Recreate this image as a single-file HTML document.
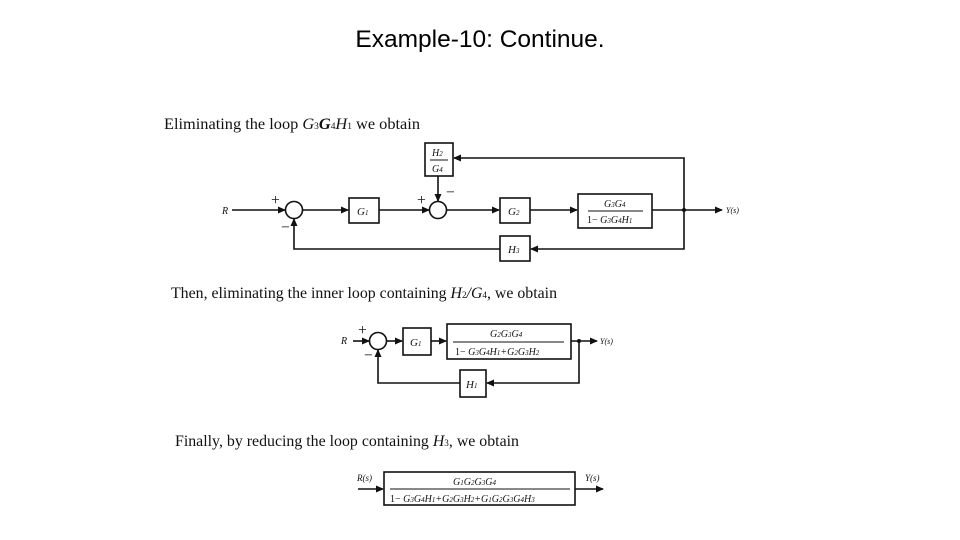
<!DOCTYPE html>
<html><head><meta charset="utf-8"><style>
html,body{margin:0;padding:0;background:#fff;}
svg{display:block;}
.t{font-family:"Liberation Serif",serif;font-size:15.6px;fill:#111;}
.i{font-family:"Liberation Serif",serif;font-style:italic;fill:#111;}
</style></head><body>
<svg width="960" height="540" viewBox="0 0 960 540" xmlns="http://www.w3.org/2000/svg">
<defs><marker id="a" markerWidth="8" markerHeight="8" refX="7" refY="4" orient="auto" markerUnits="userSpaceOnUse"><path d="M0,0.5 L8,4 L0,7.5z" fill="#111"/></marker></defs>
<text x="480" y="47" text-anchor="middle" font-family="Liberation Sans,sans-serif" font-size="24.5" fill="#000">Example-10: Continue.</text>
<g stroke="#111" stroke-width="1.6" fill="none">
<line x1="232" y1="210" x2="285" y2="210" marker-end="url(#a)"/>
<circle cx="294" cy="210" r="8.5"/>
<line x1="303" y1="210" x2="348" y2="210" marker-end="url(#a)"/>
<rect x="349" y="198" width="30" height="25"/>
<line x1="379" y1="210" x2="429" y2="210" marker-end="url(#a)"/>
<circle cx="438" cy="210" r="8.5"/>
<rect x="425" y="143" width="28" height="33"/>
<line x1="438" y1="176" x2="438" y2="201" marker-end="url(#a)"/>
<line x1="447" y1="210" x2="499" y2="210" marker-end="url(#a)"/>
<rect x="500" y="198" width="30" height="25"/>
<line x1="530" y1="210" x2="577" y2="210" marker-end="url(#a)"/>
<rect x="578" y="194" width="74" height="34"/>
<line x1="652" y1="210" x2="722" y2="210" marker-end="url(#a)"/>
<polyline points="684,210 684,158 454,158" marker-end="url(#a)"/>
<polyline points="684,210 684,249 531,249" marker-end="url(#a)"/>
<rect x="500" y="236" width="30" height="25"/>
<polyline points="500,249 294,249 294,219" marker-end="url(#a)"/>
<line x1="353" y1="341" x2="369" y2="341" marker-end="url(#a)"/>
<circle cx="378" cy="341" r="8.5"/>
<line x1="387" y1="341" x2="402" y2="341" marker-end="url(#a)"/>
<rect x="403" y="328" width="28" height="27"/>
<line x1="431" y1="341" x2="446" y2="341" marker-end="url(#a)"/>
<rect x="447" y="324" width="124" height="35"/>
<line x1="571" y1="341" x2="597" y2="341" marker-end="url(#a)"/>
<polyline points="579,341 579,383 487,383" marker-end="url(#a)"/>
<rect x="460" y="370" width="26" height="27"/>
<polyline points="460,383 378,383 378,350" marker-end="url(#a)"/>
<line x1="358" y1="489" x2="383" y2="489" marker-end="url(#a)"/>
<rect x="384" y="472" width="191" height="33"/>
<line x1="575" y1="489" x2="603" y2="489" marker-end="url(#a)"/>
<line x1="588" y1="211" x2="643" y2="211" stroke-width="1"/>
<line x1="430" y1="160" x2="448" y2="160" stroke-width="1"/>
<line x1="453" y1="342" x2="564" y2="342" stroke-width="1"/>
<line x1="390" y1="489" x2="570" y2="489" stroke-width="1"/>
</g>
<circle cx="684" cy="210" r="2" fill="#111"/>
<circle cx="579" cy="341" r="2" fill="#111"/>
<text class="t" x="164" y="129" textLength="256" lengthAdjust="spacingAndGlyphs">Eliminating the loop <tspan class="i">G</tspan><tspan font-size="9">3</tspan><tspan class="i" font-weight="bold">G</tspan><tspan font-size="9">4</tspan><tspan class="i">H</tspan><tspan font-size="9">1</tspan> we obtain</text>
<text class="i" x="222" y="214" font-size="10">R</text>
<text class="t" x="271" y="205" font-size="12">+</text>
<text class="t" x="281" y="232" font-size="13">−</text>
<text class="t" x="417" y="205" font-size="12">+</text>
<text class="t" x="446" y="197" font-size="13">−</text>
<text class="i" x="357" y="215" font-size="11">G<tspan font-size="7">1</tspan></text>
<text class="i" x="508" y="215" font-size="11">G<tspan font-size="7">2</tspan></text>
<text class="i" x="508" y="253" font-size="11">H<tspan font-size="7">3</tspan></text>
<text class="i" x="432" y="156" font-size="10">H<tspan font-size="7">2</tspan></text>
<text class="i" x="432" y="172" font-size="10">G<tspan font-size="7">4</tspan></text>
<text class="i" x="604" y="207" font-size="10">G<tspan font-size="7">3</tspan>G<tspan font-size="7">4</tspan></text>
<text class="i" x="587" y="223" font-size="10"><tspan font-style="normal">1− </tspan>G<tspan font-size="7">3</tspan>G<tspan font-size="7">4</tspan>H<tspan font-size="7">1</tspan></text>
<text class="i" x="726" y="213" font-size="8">Y(s)</text>
<text class="t" x="171" y="298" textLength="386" lengthAdjust="spacingAndGlyphs">Then, eliminating the inner loop containing <tspan class="i">H</tspan><tspan font-size="9">2</tspan><tspan class="i">/G</tspan><tspan font-size="9">4</tspan>, we obtain</text>
<text class="i" x="341" y="344" font-size="10">R</text>
<text class="t" x="358" y="335" font-size="12">+</text>
<text class="t" x="364" y="360" font-size="13">−</text>
<text class="i" x="410" y="346" font-size="11">G<tspan font-size="7">1</tspan></text>
<text class="i" x="490" y="337" font-size="10">G<tspan font-size="7">2</tspan>G<tspan font-size="7">3</tspan>G<tspan font-size="7">4</tspan></text>
<text class="i" x="455" y="355" font-size="10"><tspan font-style="normal">1− </tspan>G<tspan font-size="7">3</tspan>G<tspan font-size="7">4</tspan>H<tspan font-size="7">1</tspan>+G<tspan font-size="7">2</tspan>G<tspan font-size="7">3</tspan>H<tspan font-size="7">2</tspan></text>
<text class="i" x="466" y="388" font-size="11">H<tspan font-size="7">1</tspan></text>
<text class="i" x="600" y="344" font-size="8">Y(s)</text>
<text class="t" x="175" y="446" textLength="344" lengthAdjust="spacingAndGlyphs">Finally, by reducing the loop containing <tspan class="i">H</tspan><tspan font-size="9">3</tspan>, we obtain</text>
<text class="i" x="357" y="481" font-size="9">R(s)</text>
<text class="i" x="585" y="481" font-size="9">Y(s)</text>
<text class="i" x="453" y="485" font-size="10">G<tspan font-size="7">1</tspan>G<tspan font-size="7">2</tspan>G<tspan font-size="7">3</tspan>G<tspan font-size="7">4</tspan></text>
<text class="i" x="390" y="502" font-size="10"><tspan font-style="normal">1− </tspan>G<tspan font-size="7">3</tspan>G<tspan font-size="7">4</tspan>H<tspan font-size="7">1</tspan>+G<tspan font-size="7">2</tspan>G<tspan font-size="7">3</tspan>H<tspan font-size="7">2</tspan>+G<tspan font-size="7">1</tspan>G<tspan font-size="7">2</tspan>G<tspan font-size="7">3</tspan>G<tspan font-size="7">4</tspan>H<tspan font-size="7">3</tspan></text>
</svg>
</body></html>
